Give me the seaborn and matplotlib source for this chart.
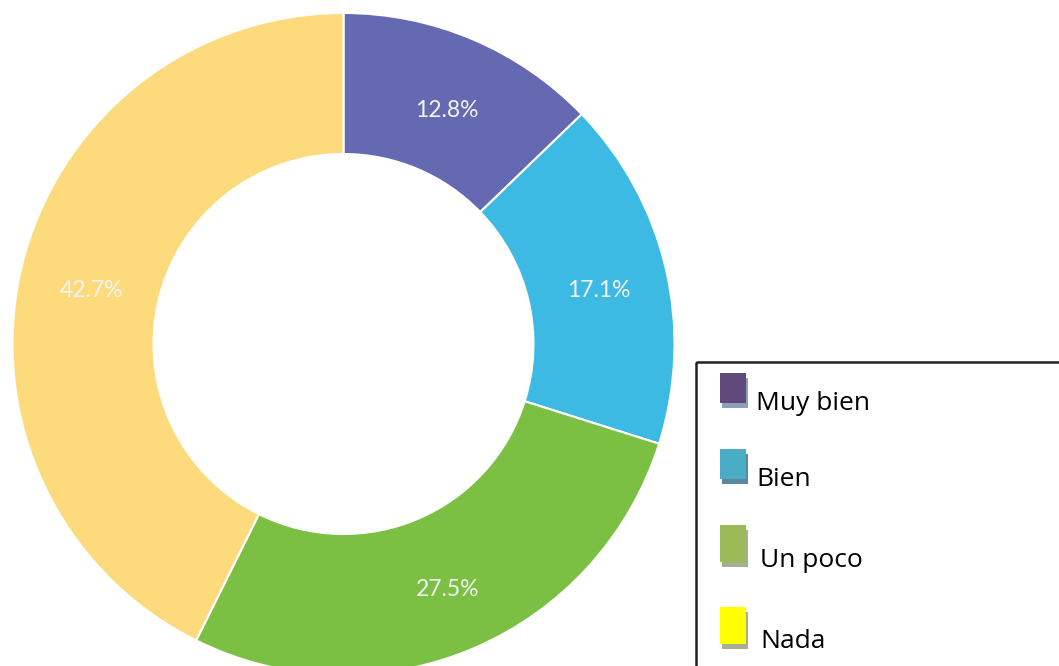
import matplotlib
matplotlib.use("Agg")
import matplotlib.pyplot as plt
import seaborn as sns
from matplotlib.patches import Rectangle

# --- Data ---
categories = ["Muy bien", "Bien", "Un poco", "Nada"]
shares = [12.8, 17.1, 27.5, 42.7]
ring_colors = ["#6469b1", "#3dbae3", "#7bc043", "#fddb7d"]
legend_colors = ["#5f4a7b", "#4bacc6", "#9bbb59", "#ffff00"]
shadow_colors = ["#8fa0b4", "#5b87a3", "#a8ae90", "#a8ae90"]

sns.set_theme(style="white")
plt.rcParams["font.family"] = ["Open Sans", "DejaVu Sans"]

W, H = 1059, 666
fig = plt.figure(figsize=(W / 100, H / 100), dpi=100)

# donut axes in pixel units, centre of the ring at (343.5, 344) from top-left
cx, cy = 343.5, 344
R, r_in = 331, 190
ax = fig.add_axes([0, 0, 1, 1])
wedges, texts, autotexts = ax.pie(
    shares,
    colors=sns.color_palette(ring_colors),
    startangle=90,
    counterclock=False,
    radius=R,
    autopct="%.1f%%",
    pctdistance=(R + r_in) / 2 / R,
    wedgeprops=dict(width=R - r_in, edgecolor="white", linewidth=1.5),
    textprops=dict(color="#f4f4f4", fontsize=16.5, family=["Lato", "DejaVu Sans"]),
)
# labels sit slightly below the ring's mid-line in the original
for t in autotexts:
    x, y = t.get_position()
    t.set_position((x + 2, y - 6))
ax.set_xlim(-cx, W - cx)
ax.set_ylim(-(H - cy), cy)
ax.set_aspect("equal")
ax.axis("off")

# legend panel drawn in its own pixel-space axes
lax = fig.add_axes([0, 0, 1, 1])
lax.set_xlim(0, W)
lax.set_ylim(H, 0)
lax.axis("off")
lax.add_patch(Rectangle((696, 362), 420, 340, fill=False, edgecolor="#222222", linewidth=1.8))
patch_top = [373, 449, 525, 607]
patch_h = [30, 30, 37, 37]
text_x = [756, 756, 760, 760]
text_base = [410, 486, 567, 648]
for i, name in enumerate(categories):
    lax.add_patch(Rectangle((722, patch_top[i] + 5), 26, patch_h[i],
                            facecolor=shadow_colors[i], edgecolor="none"))
    lax.add_patch(Rectangle((720, patch_top[i]), 26, patch_h[i],
                            facecolor=legend_colors[i], edgecolor="none"))
    lax.text(text_x[i], text_base[i], name, fontsize=19, color="black",
             va="baseline", ha="left")

fig.savefig("out.png", dpi=100)
